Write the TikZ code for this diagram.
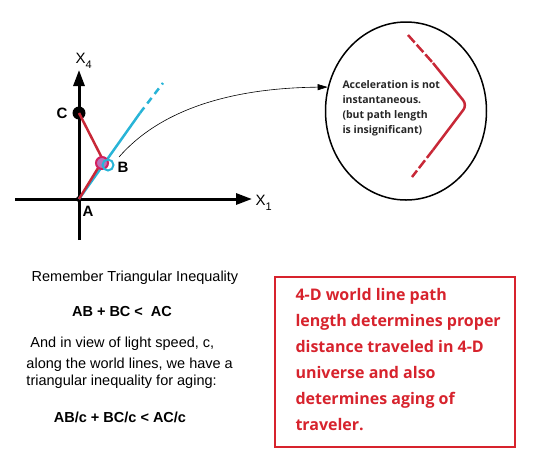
\documentclass[tikz,border=0pt]{standalone}
\usepackage{fontspec}
\setmainfont{Liberation Sans}
\newfontfamily\opensans{Open Sans}
\usetikzlibrary{arrows.meta}
\usetikzlibrary{shapes.geometric}
\definecolor{linered}{RGB}{200,40,55}
\definecolor{lightray}{RGB}{40,180,215}
\definecolor{boxred}{RGB}{215,35,45}

\begin{document}
\begin{tikzpicture}
[x=1pt,y=-1pt,line width=1pt,
 axis/.style={line width=3pt,-{Triangle[length=16pt,width=11pt]}},
 event/.style={circle,fill=black,inner sep=0pt,minimum size=#1},
 lbl/.style={font=\fontsize{15}{15}\selectfont\bfseries,inner sep=0pt},
 txt/.style={font=\fontsize{14.5}{17}\selectfont,inner sep=0pt},
 boldtxt/.style={font=\fontsize{14.5}{17}\selectfont\bfseries,inner sep=0pt},
 wline/.style={linered,line width=2.5pt}]
\useasboundingbox (0,0) rectangle (549,459);

\coordinate (xstart) at (15,199);
\coordinate (xend) at (252,199);
\coordinate (tstart) at (79,240);
\coordinate (tend) at (79,70);
\draw[axis] (xstart) -- (xend); %space
\draw[axis] (tstart) -- (tend); %time
\node[anchor=base west,font=\fontsize{15}{15}\selectfont,inner sep=0pt] (x1lab) at (255,205)
  {X\raisebox{-5pt}{\fontsize{11}{11}\selectfont 1}};
\node[anchor=base west,font=\fontsize{15}{15}\selectfont,inner sep=0pt] (x4lab) at (75,63)
  {X\raisebox{-5pt}{\fontsize{11}{11}\selectfont 4}};

\node[event=6pt] (A) at (79,199) {};
\node[event=13pt] (C) at (79,113) {};
\coordinate (B) at (103,160);

\coordinate (raymid) at (140,113);
\coordinate (rayend) at (163,83);
\draw[lightray,line width=2.5pt] (A.center) -- (raymid); %light
\draw[lightray,line width=2.5pt,dash pattern=on 7pt off 5pt] (raymid) -- (rayend);
\draw[wline] (C.center) -- (B) -- (A.center); %traveler

\node[circle,draw=linered!80!magenta,fill=violet!55,line width=2pt,minimum size=12pt,inner sep=0pt] (Bred) at (102,163) {};
\node[circle,draw=lightray,line width=2pt,minimum size=11pt,inner sep=0pt] (Bblue) at (108,165) {};

\node[lbl] (Clab) at (62,113) {C};
\node[lbl] (Alab) at (88,211) {A};
\node[lbl] (Blab) at (123,167) {B};

\node[draw,ellipse,line width=1.5pt,minimum width=161pt,minimum height=178pt,inner sep=0pt] (zoom) at (406,111) {};
\coordinate (Bt) at (119,157);
\draw[line width=0.6pt,-{Triangle[length=10pt,width=6pt]}] (Bt) .. controls (160,110) and (230,88) .. (zoom.163);

\node[anchor=north west,align=left,text=black!85,inner sep=0pt,
  font=\opensans\bfseries\fontsize{10.5}{15}\selectfont] (note) at (342,80)
  {Acceleration is not\\instantaneous.\\(but path length\\is insignificant)};

\coordinate (turn1) at (433,63);
\coordinate (turn2) at (467,105);
\coordinate (turn3) at (433,150);
\draw[wline,dash pattern=on 10pt off 3pt] (408,35) -- (turn1);
\draw[wline,rounded corners=6pt] (turn1) -- (turn2) -- (turn3);
\draw[wline,dash pattern=on 10pt off 3pt] (turn3) -- (412,177);

\node[txt,anchor=base] (remember) at (135,281) {Remember Triangular Inequality};
\node[boldtxt,anchor=base] (ineq) at (122,316) {AB + BC <\ \ AC};
\node[txt,anchor=base west] (view) at (30,347) {And in view of light speed, c,};
\node[txt,anchor=base west] (along) at (26,368) {along the world lines, we have a};
\node[txt,anchor=base west] (aging) at (26,385) {triangular inequality for aging:};
\node[boldtxt,anchor=base] (ineqc) at (120,422) {AB/c + BC/c < AC/c};

\node[draw=boxred,line width=2pt,minimum width=240pt,minimum height=170pt,inner sep=0pt] (sumbox) at (395,362) {};
\node[anchor=north west,align=left,text=boxred,inner sep=0pt,
  font=\opensans\bfseries\fontsize{16}{26}\selectfont] (sumtext) at (295,288)
  {4-D world line path\\length determines proper\\distance traveled in 4-D\\universe and also\\determines aging of\\traveler.};
\end{tikzpicture}
\end{document}
